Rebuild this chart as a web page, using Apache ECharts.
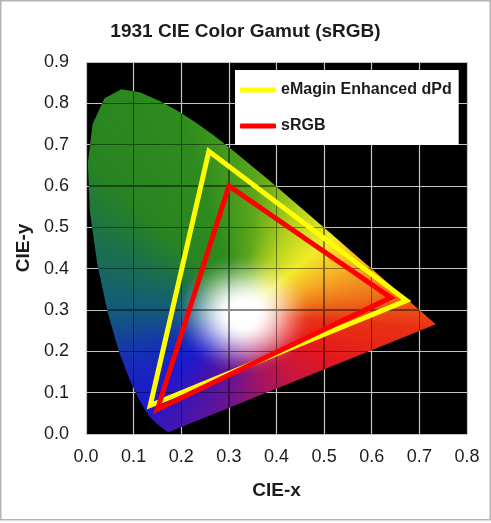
<!DOCTYPE html>
<html>
<head>
<meta charset="utf-8">
<script src="https://cdn.jsdelivr.net/npm/echarts@6/dist/echarts.min.js"></script>
<style>
  html, body { margin: 0; padding: 0; background: #fff; }
  #chart { width: 491px; height: 523px; }
</style>
</head>
<body>
<div id="chart"></div>
<script>
// CIE 1931 2° spectral locus, 380–700 nm in 5 nm steps (closed by the line of purples)
const LOCUS_X = [
  0.1741, 0.1740, 0.1738, 0.1736, 0.1733, 0.1730, 0.1726, 0.1721, 0.1714, 0.1703,
  0.1689, 0.1669, 0.1644, 0.1611, 0.1566, 0.1510, 0.1440, 0.1355, 0.1241, 0.1096,
  0.0913, 0.0687, 0.0454, 0.0235, 0.0082, 0.0039, 0.0139, 0.0389, 0.0743, 0.1142,
  0.1547, 0.1929, 0.2296, 0.2658, 0.3016, 0.3373, 0.3731, 0.4087, 0.4441, 0.4788,
  0.5125, 0.5448, 0.5752, 0.6029, 0.6270, 0.6482, 0.6658, 0.6801, 0.6915, 0.7006,
  0.7079, 0.7140, 0.7190, 0.7230, 0.7260, 0.7283, 0.7300, 0.7311, 0.7320, 0.7327,
  0.7334, 0.7340, 0.7344, 0.7346, 0.7347
];
const LOCUS_Y = [
  0.0050, 0.0050, 0.0049, 0.0049, 0.0048, 0.0048, 0.0048, 0.0048, 0.0051, 0.0058,
  0.0069, 0.0086, 0.0109, 0.0138, 0.0177, 0.0227, 0.0297, 0.0399, 0.0578, 0.0868,
  0.1327, 0.2007, 0.2950, 0.4127, 0.5384, 0.6548, 0.7502, 0.8120, 0.8338, 0.8262,
  0.8059, 0.7816, 0.7543, 0.7243, 0.6923, 0.6589, 0.6245, 0.5896, 0.5547, 0.5202,
  0.4866, 0.4544, 0.4242, 0.3965, 0.3725, 0.3514, 0.3340, 0.3197, 0.3083, 0.2993,
  0.2920, 0.2859, 0.2809, 0.2770, 0.2740, 0.2717, 0.2700, 0.2689, 0.2680, 0.2673,
  0.2666, 0.2660, 0.2656, 0.2654, 0.2653
];

// Gamut triangles: blue, green, red primaries
const EMAGIN_X = [0.135, 0.258, 0.673];
const EMAGIN_Y = [0.069, 0.684, 0.323];
const SRGB_X = [0.150, 0.300, 0.640];
const SRGB_Y = [0.060, 0.600, 0.330];

const X_TICKS = [0, 0.1, 0.2, 0.3, 0.4, 0.5, 0.6, 0.7, 0.8];
const Y_TICKS = [0, 0.1, 0.2, 0.3, 0.4, 0.5, 0.6, 0.7, 0.8, 0.9];

const FONT = '"Liberation Sans", Arial, sans-serif';
const TEXT = '#1c1c1c';
const GRID_LINE = '#c4c4c4';

// Hue ring around the white point (angle in degrees -> rgb), hand-tuned to the picture
const HUE_STOPS = [
  [-180, [20, 88, 126]],
  [-155, [22, 46, 182]],
  [-135, [28, 26, 205]],
  [-115, [72, 20, 172]],
  [-100, [104, 20, 148]],
  [-80, [158, 20, 104]],
  [-55, [200, 22, 62]],
  [-30, [226, 24, 30]],
  [-5, [233, 48, 20]],
  [10, [238, 118, 26]],
  [25, [246, 170, 36]],
  [45, [242, 236, 40]],
  [65, [182, 210, 30]],
  [85, [92, 166, 26]],
  [105, [46, 140, 30]],
  [130, [40, 132, 34]],
  [150, [26, 112, 76]],
  [170, [20, 96, 112]],
  [180, [20, 88, 126]],
];
const WHITE_X = 0.33, WHITE_Y = 0.29;

function hueColor(a) {
  for (let i = 1; i < HUE_STOPS.length; i++) {
    const [a1, c1] = HUE_STOPS[i];
    if (a <= a1) {
      const [a0, c0] = HUE_STOPS[i - 1];
      const t = (a - a0) / (a1 - a0);
      return [0, 1, 2].map(k => c0[k] + (c1[k] - c0[k]) * t);
    }
  }
  return HUE_STOPS[HUE_STOPS.length - 1][1];
}

function smoothstep(e0, e1, v) {
  const t = Math.min(1, Math.max(0, (v - e0) / (e1 - e0)));
  return t * t * (3 - 2 * t);
}

function gamutColor(x, y) {
  const dx = x - WHITE_X, dy = y - WHITE_Y;
  const d = Math.sqrt(dx * dx + dy * dy);
  const c = hueColor(Math.atan2(dy, dx) * 180 / Math.PI);
  const t = smoothstep(0.025, 0.15, d);
  return c.map(v => 255 + (v - 255) * t);
}

// Offscreen image used as the fill pattern of the locus polygon
let gamutCanvas = null;
let gamutKey = '';
const DPR = window.devicePixelRatio || 1;

function buildGamutCanvas(api) {
  const p0 = api.coord([0, 0]);
  const p1 = api.coord([0.8, 0.9]);
  const key = p0.join(',') + '|' + p1.join(',');
  if (gamutCanvas && key === gamutKey) return gamutCanvas;
  const W = api.getWidth(), H = api.getHeight();
  const cv = document.createElement('canvas');
  cv.width = Math.round(W * DPR);
  cv.height = Math.round(H * DPR);
  const ctx = cv.getContext('2d');
  const img = ctx.createImageData(cv.width, cv.height);
  const sx = (p1[0] - p0[0]) / 0.8;
  const sy = (p1[1] - p0[1]) / 0.9;
  const gx = X_TICKS.map(v => p0[0] + v * sx);
  const gy = Y_TICKS.map(v => p0[1] + v * sy);
  for (let py = 0; py < cv.height; py++) {
    const cy = (py + 0.5) / DPR;
    const y = (cy - p0[1]) / sy;
    if (y < 0 || y > 0.9) continue;
    const onRow = gy.some(g => Math.abs(cy - g) < 0.65);
    for (let px = 0; px < cv.width; px++) {
      const cx = (px + 0.5) / DPR;
      const x = (cx - p0[0]) / sx;
      if (x < 0 || x > 0.8) continue;
      let c = gamutColor(x, y);
      if (onRow || gx.some(g => Math.abs(cx - g) < 0.65)) c = c.map(v => v * 0.55);
      const o = (py * cv.width + px) * 4;
      img.data[o] = c[0];
      img.data[o + 1] = c[1];
      img.data[o + 2] = c[2];
      img.data[o + 3] = 255;
    }
  }
  ctx.putImageData(img, 0, 0);
  gamutCanvas = cv;
  gamutKey = key;
  return cv;
}

// Closed triangle path; the second vertex is repeated so the closing corner is mitred too
function trianglePath(xs, ys) {
  const pts = xs.map((x, i) => [x, ys[i]]);
  return pts.concat([pts[0], pts[1]]);
}

const chart = echarts.init(document.getElementById('chart'), null, { renderer: 'canvas' });

chart.setOption({
  animation: false,
  backgroundColor: '#fff',
  textStyle: { fontFamily: FONT, color: TEXT },
  title: {
    text: '1931 CIE Color Gamut (sRGB)',
    left: 'center',
    top: 22,
    padding: [0, 0, 0, 16],
    textStyle: { fontFamily: FONT, fontSize: 19, fontWeight: 'bold', color: TEXT },
  },
  grid: {
    left: 86, right: 24, top: 62, bottom: 89,
    show: true, backgroundColor: '#000', borderWidth: 0,
  },
  legend: {
    data: ['eMagin Enhanced dPd', 'sRGB'],
    orient: 'vertical',
    left: 235, top: 70,
    backgroundColor: '#fff',
    padding: [12, 7, 11, 5],
    icon: 'roundRect',
    itemWidth: 36, itemHeight: 5, itemGap: 20,
    selectedMode: false,
    textStyle: { fontFamily: FONT, fontSize: 16, fontWeight: 'bold', color: TEXT },
  },
  xAxis: {
    type: 'value',
    min: 0, max: 0.8, interval: 0.1,
    name: 'CIE-x',
    nameLocation: 'middle',
    nameGap: 47,
    nameTextStyle: { fontFamily: FONT, fontSize: 19, fontWeight: 'bold', color: TEXT },
    axisLine: { show: false },
    axisTick: { show: false },
    axisLabel: { fontFamily: FONT, fontSize: 18, color: TEXT, margin: 14, formatter: v => v.toFixed(1) },
    splitLine: { show: true, lineStyle: { color: GRID_LINE, width: 1.2 } },
  },
  yAxis: {
    type: 'value',
    min: 0, max: 0.9, interval: 0.1,
    name: 'CIE-y',
    nameLocation: 'middle',
    nameGap: 52,
    nameRotate: 90,
    nameTextStyle: { fontFamily: FONT, fontSize: 19, fontWeight: 'bold', color: TEXT },
    axisLine: { show: false },
    axisTick: { show: false },
    axisLabel: { fontFamily: FONT, fontSize: 18, color: TEXT, margin: 17, formatter: v => v.toFixed(1) },
    splitLine: { show: true, lineStyle: { color: GRID_LINE, width: 1.2 } },
  },
  graphic: [{
    type: 'rect',
    silent: true,
    shape: { x: 0.75, y: 0.75, width: 489.5, height: 519 },
    style: { fill: null, stroke: '#b4b4b4', lineWidth: 1.5 },
  }],
  series: [
    {
      type: 'custom',
      name: 'locus',
      silent: true,
      z: 2,
      data: [[0, 0]],
      renderItem: function (params, api) {
        const points = LOCUS_X.map((x, i) => api.coord([x, LOCUS_Y[i]]));
        const cv = buildGamutCanvas(api);
        return {
          type: 'polygon',
          shape: { points },
          style: {
            fill: { image: cv, repeat: 'no-repeat', scaleX: 1 / DPR, scaleY: 1 / DPR },
            stroke: null,
          },
        };
      },
    },
    {
      name: 'eMagin Enhanced dPd',
      type: 'line',
      z: 3,
      symbol: 'none',
      data: trianglePath(EMAGIN_X, EMAGIN_Y),
      lineStyle: { color: '#ffff00', width: 5, join: 'miter' },
      itemStyle: { color: '#ffff00' },
    },
    {
      name: 'sRGB',
      type: 'line',
      z: 4,
      symbol: 'none',
      data: trianglePath(SRGB_X, SRGB_Y),
      lineStyle: { color: '#ff0000', width: 5, join: 'miter' },
      itemStyle: { color: '#ff0000' },
    },
  ],
});
</script>
</body>
</html>
